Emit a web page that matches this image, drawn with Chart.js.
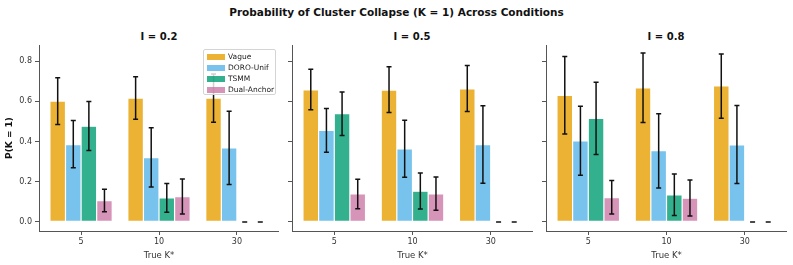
<!DOCTYPE html>
<html>
<head>
<meta charset="utf-8">
<script src="https://cdn.jsdelivr.net/npm/chart.js@4.4.1/dist/chart.umd.min.js"></script>
<style>
  body { margin: 0; background: #fff; font-family: 'DejaVu Sans', sans-serif; }
  #wrap { position: relative; width: 793px; height: 265px; overflow: hidden; }
  canvas { position: absolute; top: 0; }
  .title { position: absolute; left: 0; top: 6px; width: 793px; text-align: center; font-weight: bold; font-size: 10.5px; color: #111; }
  .ptitle { position: absolute; top: 31px; width: 120px; text-align: center; font-weight: bold; font-size: 10px; color: #111; }
  #legend { position: absolute; left: 203px; top: 49px; width: 71px; height: 43px; background: rgba(255,255,255,0.8);
            border: 1px solid #d4d4d4; border-radius: 2px; padding-top: 1px; }
  #legend .row { height: 11px; line-height: 11px; font-size: 7.5px; color: #222; white-space: nowrap; }
  #legend .patch { display: inline-block; width: 18px; height: 6px; margin: 0 3px 0 3px; vertical-align: -0.5px; }
</style>
</head>
<body>
<div id="wrap">
  <div class="title">Probability of Cluster Collapse (K = 1) Across Conditions</div>
  <div class="ptitle" id="pt0" style="left:99px"></div>
  <div class="ptitle" id="pt1" style="left:352px"></div>
  <div class="ptitle" id="pt2" style="left:606px"></div>
  <canvas id="c0" width="279" height="265" style="left:0px"></canvas>
  <canvas id="c1" width="249" height="265" style="left:284px"></canvas>
  <canvas id="c2" width="249" height="265" style="left:538px"></canvas>
  <div id="legend"></div>
</div>
<script>
// Categories and labels
const categories = ['5', '10', '30'];
const seriesNames = ['Vague', 'DORO-Unif', 'TSMM', 'Dual-Anchor'];
const panelTitles = ['I = 0.2', 'I = 0.5', 'I = 0.8'];
const yTicks = [0, 0.2, 0.4, 0.6, 0.8];

// I = 0.2
const vague02 = [0.601, 0.616, 0.616];
const vague02Ci = [[0.485, 0.717], [0.511, 0.722], [0.496, 0.736]];
const doro02 = [0.385, 0.320, 0.368];
const doro02Ci = [[0.269, 0.505], [0.174, 0.468], [0.186, 0.551]];
const tsmm02 = [0.476, 0.120, 0];
const tsmm02Ci = [[0.355, 0.599], [0.048, 0.191], [0, 0]];
const dual02 = [0.106, 0.126, 0];
const dual02Ci = [[0.051, 0.163], [0.040, 0.214], [0, 0]];

// I = 0.5
const vague05 = [0.657, 0.656, 0.662];
const vague05Ci = [[0.558, 0.760], [0.544, 0.772], [0.549, 0.778]];
const doro05 = [0.455, 0.363, 0.385];
const doro05Ci = [[0.347, 0.564], [0.222, 0.506], [0.193, 0.578]];
const tsmm05 = [0.538, 0.153, 0];
const tsmm05Ci = [[0.430, 0.646], [0.065, 0.244], [0, 0]];
const dual05 = [0.139, 0.139, 0];
const dual05Ci = [[0.066, 0.212], [0.058, 0.224], [0, 0]];

// I = 0.8
const vague08 = [0.629, 0.667, 0.676];
const vague08Ci = [[0.438, 0.823], [0.495, 0.840], [0.516, 0.835]];
const doro08 = [0.403, 0.354, 0.383];
const doro08Ci = [[0.232, 0.576], [0.169, 0.538], [0.191, 0.579]];
const tsmm08 = [0.515, 0.134, 0];
const tsmm08Ci = [[0.335, 0.695], [0.032, 0.239], [0, 0]];
const dual08 = [0.121, 0.118, 0];
const dual08Ci = [[0.040, 0.206], [0.030, 0.209], [0, 0]];

const panels = [
    { values: [vague02, doro02, tsmm02, dual02], cis: [vague02Ci, doro02Ci, tsmm02Ci, dual02Ci] },
    { values: [vague05, doro05, tsmm05, dual05], cis: [vague05Ci, doro05Ci, tsmm05Ci, dual05Ci] },
    { values: [vague08, doro08, tsmm08, dual08], cis: [vague08Ci, doro08Ci, tsmm08Ci, dual08Ci] }
];

const colors = ['rgba(230,159,0,0.8)', 'rgba(86,180,233,0.8)', 'rgba(0,158,115,0.8)', 'rgba(204,121,167,0.8)'];
const axisColor = '#555';

Chart.defaults.font.family = "'DejaVu Sans', sans-serif";
Chart.defaults.color = '#222';

// error bars drawn on top of the bars
const errorBars = {
    id: 'errorBars',
    afterDatasetsDraw(chart) {
        const ctx = chart.ctx;
        const yScale = chart.scales.y;
        chart.data.datasets.forEach((ds, d) => {
            const meta = chart.getDatasetMeta(d);
            meta.data.forEach((bar, i) => {
                const yLo = yScale.getPixelForValue(ds.ci[i][0]);
                const yHi = yScale.getPixelForValue(ds.ci[i][1]);
                ctx.save();
                ctx.strokeStyle = '#111';
                ctx.lineWidth = 1.5;
                ctx.beginPath();
                ctx.moveTo(bar.x, yLo);
                ctx.lineTo(bar.x, yHi);
                ctx.moveTo(bar.x - 2.5, yLo);
                ctx.lineTo(bar.x + 2.5, yLo);
                ctx.moveTo(bar.x - 2.5, yHi);
                ctx.lineTo(bar.x + 2.5, yHi);
                ctx.stroke();
                ctx.restore();
            });
        });
    }
};

function makePanel(idx) {
    const p = panels[idx];
    const first = idx === 0;
    document.getElementById('pt' + idx).textContent = panelTitles[idx];

    new Chart(document.getElementById('c' + idx), {
        type: 'bar',
        data: {
            datasets: seriesNames.map((name, s) => ({
                label: name,
                data: p.values[s].map((v, i) => ({ x: i, y: v })),
                ci: p.cis[s],
                backgroundColor: colors[s],
                borderColor: 'rgba(255,255,255,0.6)',
                borderWidth: 0.6,
                borderSkipped: false,
                categoryPercentage: 0.8,
                barPercentage: 1
            }))
        },
        options: {
            responsive: false,
            animation: false,
            devicePixelRatio: 1,
            layout: { padding: { top: 45, left: 0, right: 0, bottom: 0 } },
            plugins: { legend: { display: false }, tooltip: { enabled: false } },
            scales: {
                x: {
                    type: 'linear',
                    offset: false,
                    min: -0.54,
                    max: 2.54,
                    afterBuildTicks: s => { s.ticks = categories.map((c, i) => ({ value: i })); },
                    afterFit: s => { s.height = 34; },
                    ticks: {
                        callback: (v, i) => categories[i],
                        font: { size: 8 },
                        color: '#333',
                        padding: 2,
                        maxRotation: 0,
                        autoSkip: false
                    },
                    grid: { offset: false, drawOnChartArea: false, tickLength: 4, color: axisColor },
                    border: { display: true, color: axisColor, width: 1 },
                    title: { display: true, text: 'True K*', color: '#333', font: { size: 8.5 }, padding: { top: 0, bottom: 4 } }
                },
                y: {
                    min: -0.045,
                    max: 0.88,
                    afterBuildTicks: s => { s.ticks = yTicks.map(v => ({ value: v })); },
                    afterFit: s => { s.width = first ? 39 : 8; },
                    ticks: {
                        display: first,
                        callback: v => v.toFixed(1),
                        font: { size: 8 },
                        color: '#333',
                        padding: 3
                    },
                    grid: { drawOnChartArea: false, tickLength: 4, color: axisColor },
                    border: { display: true, color: axisColor, width: 1 },
                    title: {
                        display: first,
                        text: 'P(K = 1)',
                        color: '#111',
                        font: { size: 9, weight: 'bold' },
                        padding: { top: 4, bottom: 0 }
                    }
                }
            }
        },
        plugins: [errorBars]
    });
}

[0, 1, 2].forEach(makePanel);

// legend inside the first panel
const legend = document.getElementById('legend');
seriesNames.forEach((name, s) => {
    const row = document.createElement('div');
    row.className = 'row';
    row.innerHTML = '<span class="patch" style="background:' + colors[s] + '"></span>' + name;
    legend.appendChild(row);
});
</script>
</body>
</html>
